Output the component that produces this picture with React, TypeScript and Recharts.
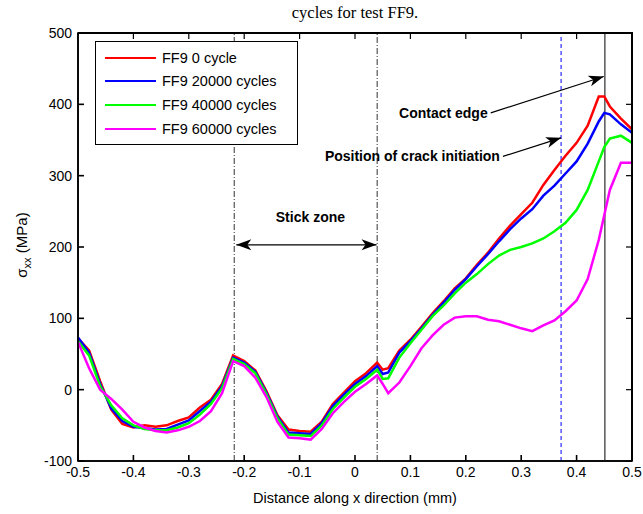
import React from 'react';
import { LineChart, Line, XAxis, YAxis, ReferenceLine, ReferenceArea, Legend } from 'recharts';

const xs = [-0.5, -0.48, -0.46, -0.44, -0.42, -0.4, -0.38, -0.36, -0.34, -0.32, -0.3, -0.28, -0.26, -0.24, -0.22, -0.2, -0.18, -0.16, -0.14, -0.12, -0.1, -0.08, -0.06, -0.04, -0.02, 0, 0.02, 0.04, 0.05, 0.06, 0.08, 0.1, 0.12, 0.14, 0.16, 0.18, 0.2, 0.22, 0.24, 0.26, 0.28, 0.3, 0.32, 0.34, 0.36, 0.38, 0.4, 0.42, 0.44, 0.45, 0.46, 0.48, 0.5];

const ff9Cycle0 = [72, 55, 12, -28, -48, -53, -50, -52, -50, -44, -39, -25, -14, 8, 48, 40, 27, -2, -36, -56, -58, -59, -45, -20, -4, 12, 23, 38, 28, 30, 55, 70, 88, 107, 124, 142, 156, 175, 192, 212, 230, 246, 262, 287, 308, 328, 346, 370, 411, 411, 397, 380, 365];
const ff9Cycle20000 = [73, 52, 8, -26, -44, -52, -54, -56, -55, -49, -43, -30, -17, 5, 45, 38, 25, -4, -38, -60, -61, -62, -47, -23, -7, 8, 19, 33, 22, 24, 52, 68, 86, 105, 122, 140, 155, 173, 190, 208, 225, 240, 253, 272, 286, 303, 320, 345, 376, 388, 386, 372, 360];
const ff9Cycle40000 = [68, 48, 5, -22, -40, -50, -55, -57, -57, -53, -47, -35, -20, 2, 43, 36, 23, -6, -40, -63, -64, -65, -50, -27, -11, 4, 15, 28, 15, 16, 45, 65, 84, 103, 118, 135, 150, 162, 176, 188, 196, 200, 205, 212, 222, 234, 252, 280, 320, 340, 352, 356, 346];
const ff9Cycle60000 = [67, 30, 0, -13, -28, -45, -53, -58, -60, -57, -52, -44, -30, -5, 40, 33, 17, -10, -45, -67, -68, -70, -55, -33, -17, -3, 8, 20, 8, -5, 10, 33, 58, 76, 91, 101, 103, 103, 98, 96, 91, 86, 82, 90, 97, 110, 125, 155, 210, 245, 280, 318, 318];

const seriesKeys = ['c0', 'c20000', 'c40000', 'c60000'];
const seriesNames = ['FF9 0 cycle', 'FF9 20000 cycles', 'FF9 40000 cycles', 'FF9 60000 cycles'];
const seriesColors = ['#ff0000', '#0000ff', '#00ff00', '#ff00ff'];

const xDomain = [-0.5, 0.5];
const yDomain = [-100, 500];
const xTicks = [-0.5, -0.4, -0.3, -0.2, -0.1, 0, 0.1, 0.2, 0.3, 0.4, 0.5];
const yTicks = [-100, 0, 100, 200, 300, 400, 500];

const stickLines = [-0.218, 0.04];
const crackX = 0.372;
const contactX = 0.451;
const stickArrow = { x1: -0.2143, x2: 0.0389, y: 203 };
const contactArrow = { x1: 0.245, y1: 388, x2: 0.449, y2: 439 };
const crackArrow = { x1: 0.267, y1: 327, x2: 0.372, y2: 353 };

const data = xs.map((x, i) => ({
  x,
  c0: ff9Cycle0[i],
  c20000: ff9Cycle20000[i],
  c40000: ff9Cycle40000[i],
  c60000: ff9Cycle60000[i],
}));

const FONT = '"Liberation Sans", Arial, Helvetica, sans-serif';
const TICK = 6;

function head(x1: number, y1: number, x2: number, y2: number) {
  const a = Math.atan2(y2 - y1, x2 - x1);
  const L = 15, W = 5.5, N = 11;
  const bx = x2 - L * Math.cos(a), by = y2 - L * Math.sin(a);
  const nx = x2 - N * Math.cos(a), ny = y2 - N * Math.sin(a);
  const px = -Math.sin(a), py = Math.cos(a);
  return `${x2},${y2} ${bx + W * px},${by + W * py} ${nx},${ny} ${bx - W * px},${by - W * py}`;
}

const makeArrow = (label: string, double: boolean, mode: 'above' | 'left') => (p: any) => {
  const { x1, y1, x2, y2 } = p;
  if ([x1, y1, x2, y2].some((v) => typeof v !== 'number' || isNaN(v))) return null;
  return (
    <g>
      <line x1={x1} y1={y1} x2={x2} y2={y2} stroke="#000" strokeWidth={1.2} />
      <polygon points={head(x1, y1, x2, y2)} fill="#000" />
      {double && <polygon points={head(x2, y2, x1, y1)} fill="#000" />}
      {mode === 'above' ? (
        <text x={(x1 + x2) / 2 + 4} y={y1 - 23} textAnchor="middle" fontFamily={FONT} fontWeight="bold" fontSize={14} fill="#000">{label}</text>
      ) : (
        <text x={x1 - 3} y={y1 + 5} textAnchor="end" fontFamily={FONT} fontWeight="bold" fontSize={14} fill="#000">{label}</text>
      )}
    </g>
  );
};

// plot frame (top/right spines) with inward ticks on those sides
const frameShape = (p: any) => {
  const { x, y, width, height } = p;
  if ([x, y, width, height].some((v) => typeof v !== 'number' || isNaN(v))) return null;
  const right = x + width, bottom = y + height;
  return (
    <g>
      <rect x={x} y={y} width={width} height={height} fill="none" stroke="#000" strokeWidth={1.6} />
      {xTicks.map((t) => {
        const px = x + ((t - xDomain[0]) / (xDomain[1] - xDomain[0])) * width;
        return <line key={'t' + t} x1={px} x2={px} y1={y} y2={y + TICK} stroke="#000" strokeWidth={1.2} />;
      })}
      {yTicks.map((t) => {
        const py = bottom - ((t - yDomain[0]) / (yDomain[1] - yDomain[0])) * height;
        return <line key={'r' + t} x1={right} x2={right - TICK} y1={py} y2={py} stroke="#000" strokeWidth={1.2} />;
      })}
    </g>
  );
};

const LegendBox = () => (
  <div style={{ border: '1.5px solid #000', background: '#fff', width: 201, padding: '4px 0', boxSizing: 'content-box' }}>
    {seriesNames.map((n, i) => (
      <div key={n} style={{ height: 23.6, display: 'flex', alignItems: 'center' }}>
        <div style={{ marginLeft: 9, width: 51, height: 0, borderTop: `2.5px solid ${seriesColors[i]}` }} />
        <span style={{ marginLeft: 6, fontFamily: FONT, fontSize: 14.5, color: '#000', whiteSpace: 'nowrap' }}>{n}</span>
      </div>
    ))}
  </div>
);

export default function App() {
  return (
    <div style={{ position: 'absolute', left: 0, top: 0, width: 643, height: 514, background: '#fff' }}>
      <div style={{ position: 'absolute', left: 0, top: 3, width: 710, textAlign: 'center', fontFamily: '"Liberation Serif", "Times New Roman", serif', fontSize: 16.5, lineHeight: '20px', color: '#000' }}>
        cycles for test FF9.
      </div>
      <LineChart width={643} height={514} data={data} margin={{ top: 33, right: 11, bottom: 23, left: 20 }}>
        <XAxis
          dataKey="x"
          type="number"
          domain={xDomain}
          ticks={xTicks}
          allowDataOverflow
          height={30}
          stroke="#000"
          strokeWidth={1.6}
          tickSize={-TICK}
          tickMargin={12}
          tick={{ fill: '#000', fontSize: 14, fontFamily: FONT }}
          interval={0}
          label={{
            content: () => (
              <text x={355} y={503} textAnchor="middle" fontFamily={FONT} fontSize={14.5} fill="#000">Distance along x direction (mm)</text>
            ),
          }}
        />
        <YAxis
          type="number"
          domain={yDomain}
          ticks={yTicks}
          allowDataOverflow
          width={58}
          stroke="#000"
          strokeWidth={1.6}
          tickSize={-TICK}
          tickMargin={12}
          tick={{ fill: '#000', fontSize: 14, fontFamily: FONT }}
          interval={0}
          label={{
            content: () => (
              <text transform="rotate(-90, 27, 245)" x={27} y={245} textAnchor="middle" fontFamily={FONT} fontSize={15} fill="#000">
                σ<tspan fontSize={11} dy={4}>xx</tspan><tspan dy={-4}> (MPa)</tspan>
              </text>
            ),
          }}
        />
        <ReferenceArea
          x1={xDomain[0]}
          x2={xDomain[1]}
          y1={yDomain[0]}
          y2={yDomain[1]}
          ifOverflow="visible"
          fill="none"
          stroke="#000"
          shape={frameShape}
        />
        {stickLines.map((v) => (
          <ReferenceLine key={v} x={v} stroke="#333" strokeWidth={1} strokeDasharray="6 2 1 2" />
        ))}
        <ReferenceLine x={crackX} stroke="#0000ff" strokeWidth={1} strokeDasharray="4 3" />
        <ReferenceLine x={contactX} stroke="#555" strokeWidth={1.5} />
        {seriesKeys.map((k, i) => (
          <Line key={k} dataKey={k} name={seriesNames[i]} stroke={seriesColors[i]} strokeWidth={2.5} dot={false} isAnimationActive={false} type="linear" />
        ))}
        <ReferenceLine
          segment={[{ x: stickArrow.x1, y: stickArrow.y }, { x: stickArrow.x2, y: stickArrow.y }]}
          shape={makeArrow('Stick zone', true, 'above')}
        />
        <ReferenceLine
          segment={[{ x: contactArrow.x1, y: contactArrow.y1 }, { x: contactArrow.x2, y: contactArrow.y2 }]}
          shape={makeArrow('Contact edge', false, 'left')}
        />
        <ReferenceLine
          segment={[{ x: crackArrow.x1, y: crackArrow.y1 }, { x: crackArrow.x2, y: crackArrow.y2 }]}
          shape={makeArrow('Position of crack initiation', false, 'left')}
        />
        <Legend
          layout="vertical"
          align="center"
          verticalAlign="middle"
          content={() => <LegendBox />}
          wrapperStyle={{ left: 95, top: 41, width: 'auto', height: 'auto' }}
        />
      </LineChart>
      <div style={{ position: 'absolute', zIndex: 10, left: 78, top: 32, width: 555, height: 2, background: '#000', pointerEvents: 'none' }} />
      <div style={{ position: 'absolute', zIndex: 10, left: 631, top: 33, width: 2, height: 428, background: '#000', pointerEvents: 'none' }} />
    </div>
  );
}
